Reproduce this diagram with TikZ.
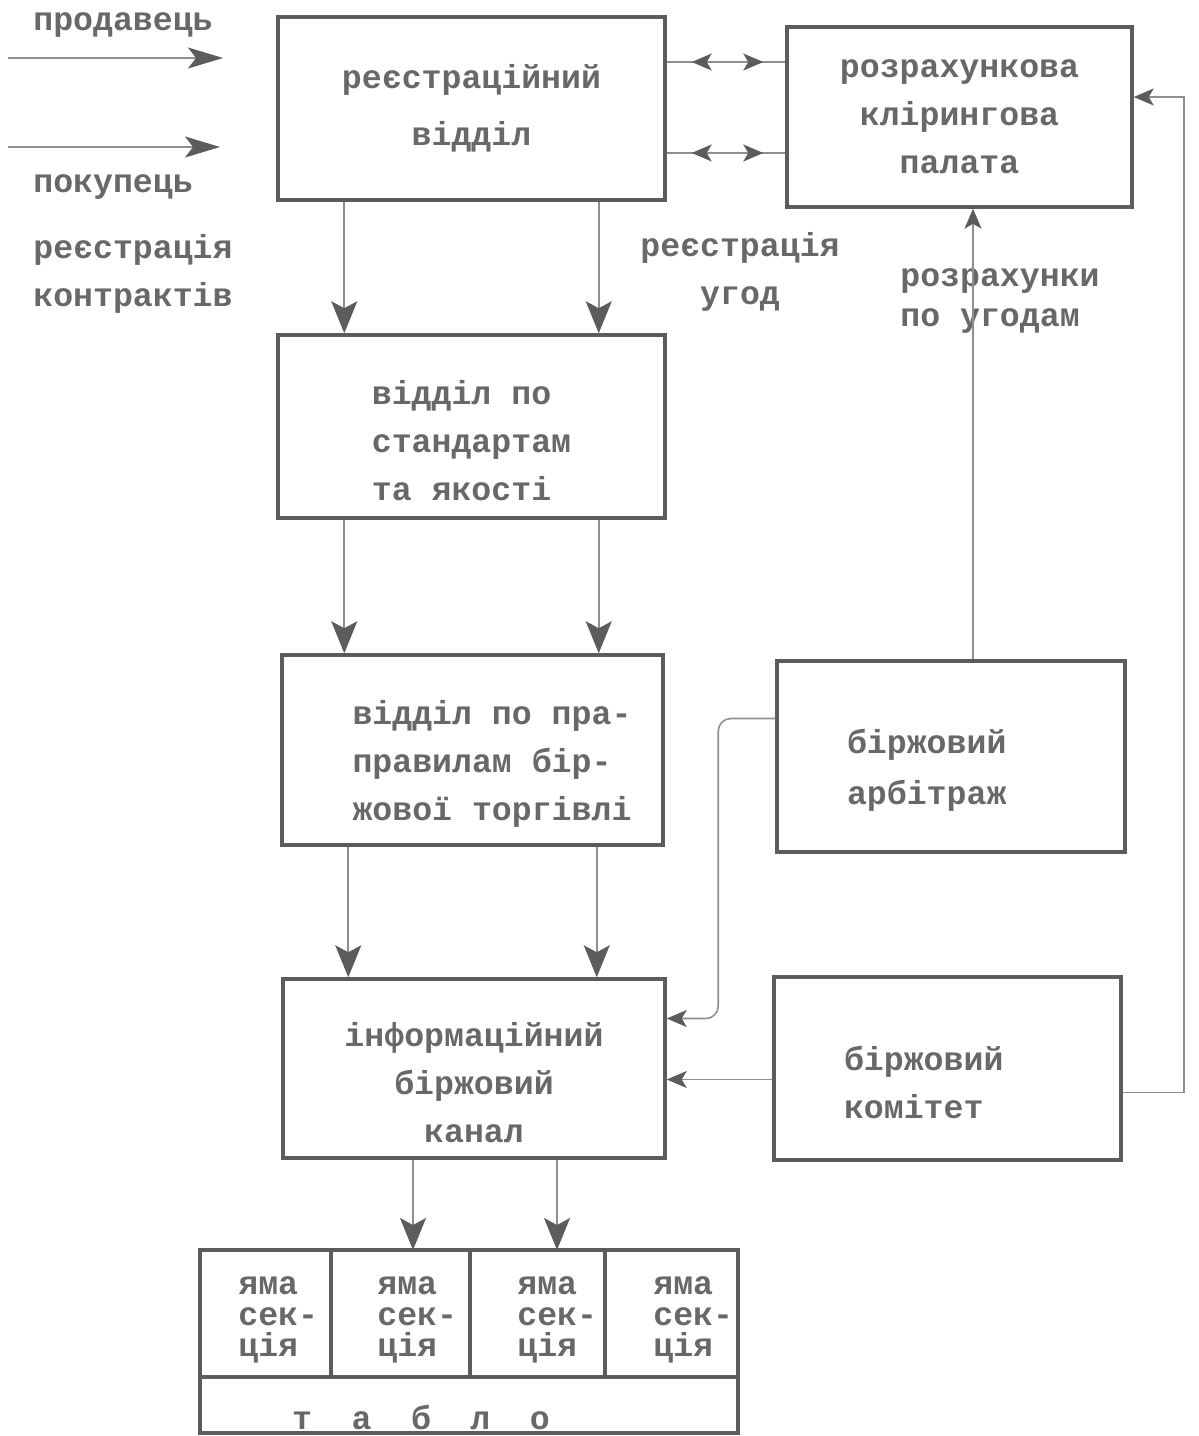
\documentclass[tikz,border=0pt]{standalone}
\usepackage{fontspec}
\setmainfont{Liberation Mono}
\usetikzlibrary{arrows.meta}
\usepackage{xcolor}
\definecolor{pencil}{HTML}{8E8E8E}
\definecolor{ink}{HTML}{5C5C5C}
\definecolor{typed}{HTML}{686868}
\newcommand{\typefont}{\fontsize{18.9}{27.2}\selectfont\bfseries}
\newcommand{\pitfont}{\fontsize{18.9}{17.6}\selectfont\bfseries}
\newcommand{\lettergap}{\hspace{0.79cm}}
\newcommand{\indentline}{\hspace*{0.78cm}}
\newcommand{\sink}{\rule{0pt}{1.04cm}}

\tikzset{
  bighead/.tip={Stealth[length=0.64cm, width=0.52cm, inset=0.14cm, color=ink]},
  smallhead/.tip={Stealth[length=0.4cm, width=0.34cm, inset=0.1cm, color=ink]},
  unit/.style={draw=ink, line width=2pt, text=typed, font=\typefont, align=center},
  lbl/.style={text=typed, font=\typefont, inner sep=0pt},
  link/.style={draw=pencil, line width=0.9pt},
  arr/.style={link, -bighead},
  arrs/.style={link, -smallhead},
  grid/.style={draw=ink, line width=2pt},
}

\begin{document}
\begin{tikzpicture}[x=0.02cm, y=-0.02cm]
  \useasboundingbox (0,0) rectangle (1198,1436);

  % Main column of departments
  \node[unit, minimum width=7.74cm, minimum height=3.66cm] (reg) at (471.5,108.5)
        {реєстраційний\\[5pt]відділ};
  \node[unit, minimum width=7.74cm, minimum height=3.66cm, align=left] (std) at (471.5,426.5)
        {\sink відділ по\\стандартам\\та якості};
  \node[unit, minimum width=7.62cm, minimum height=3.8cm, align=left] (rules) at (472.5,750)
        {\sink\indentline відділ по пра-\\\indentline правилам бір-\\\indentline жової торгівлі};
  \node[unit, minimum width=7.64cm, minimum height=3.58cm] (info) at (474,1068.5)
        {\sink інформаційний\\біржовий\\канал};

  % Right column
  \node[unit, minimum width=6.9cm, minimum height=3.6cm] (clear) at (959.5,117)
        {розрахункова\\клірингова\\палата};
  \node[unit, minimum height=3.82cm, text width=4.16cm, inner xsep=1.4cm,
        align=left] (arb) at (951,756.5) {\sink біржовий\\[2pt]арбітраж};
  \node[unit, minimum height=3.66cm, text width=4.14cm, inner xsep=1.4cm,
        align=left] (com) at (947.5,1068.5) {\sink біржовий\\комітет};

  % Left-side inputs
  \node[lbl, anchor=west] (seller) at (33,25) {продавець};
  \node[lbl, anchor=west] (buyer) at (33,187) {покупець};
  \node[lbl, anchor=west, align=left] (regc) at (33,274) {реєстрація\\контрактів};
  \coordinate (sellA) at (8,58);
  \coordinate (sellB) at (223,58);
  \coordinate (buyA) at (8,147);
  \coordinate (buyB) at (220,147);
  \draw[link, -{Stealth[length=0.7cm, width=0.42cm, inset=0.16cm, color=ink]}] (sellA) -- (sellB);
  \draw[link, -{Stealth[length=0.7cm, width=0.42cm, inset=0.16cm, color=ink]}] (buyA) -- (buyB);

  % Other captions
  \node[lbl, align=center] (regd) at (740,272) {реєстрація\\угод};
  \node[lbl, anchor=west, align=left] (calc) at (900,301) {розрахунки\\[-4pt]по угодам};

  % Down the main column
  \foreach \a/\b in {reg/std, std/rules, rules/info} {
    \draw[arr] ([xshift=1.36cm]\a.south west) coordinate (p) -- (p |- \b.north);
    \draw[arr] ([xshift=-1.36cm]\a.south east) coordinate (p) -- (p |- \b.north);
  }

  % Registration <-> clearing house
  \draw[link] ([yshift=0.93cm]reg.east) coordinate (q1) -- (q1 -| clear.west);
  \draw[link, smallhead-smallhead, shorten <=0.5cm, shorten >=0.44cm] (q1) -- (q1 -| clear.west);
  \draw[link] ([yshift=-0.89cm]reg.east) coordinate (q2) -- (q2 -| clear.west);
  \draw[link, smallhead-smallhead, shorten <=0.5cm, shorten >=0.44cm] (q2) -- (q2 -| clear.west);

  % Feedback lines
  \draw[arrs] ([xshift=0.44cm]arb.north) coordinate (u) -- (u |- clear.south);
  \draw[arrs] ([yshift=-0.48cm]com.east) -- ++(61,0) |- ([yshift=0.4cm]clear.east);
  \draw[arrs, rounded corners=0.25cm] ([yshift=0.76cm]arb.west) -- ++(-57,0) |- ([yshift=1.0cm]info.east);
  \draw[arrs] ([yshift=-0.22cm]com.west) coordinate (v) -- (v -| info.east);

  % Pits and board
  \draw[grid] (200,1250) rectangle (738,1433);
  \draw[grid] (200,1377) -- (738,1377);
  \foreach \x in {331,470,605}
    \draw[grid] (\x,1250) -- (\x,1377);
  \node[lbl, font=\pitfont, anchor=west, align=left] (pit1) at (238,1320) {яма\\сек-\\ція};
  \node[lbl, font=\pitfont, anchor=west, align=left] (pit2) at (377,1320) {яма\\сек-\\ція};
  \node[lbl, font=\pitfont, anchor=west, align=left] (pit3) at (517,1320) {яма\\сек-\\ція};
  \node[lbl, font=\pitfont, anchor=west, align=left] (pit4) at (653,1320) {яма\\сек-\\ція};
  \node[lbl] (board) at (421,1417) {т\lettergap а\lettergap б\lettergap л\lettergap о};
  \coordinate (t1) at (413,1250);
  \coordinate (t2) at (557,1250);
  \draw[arr] (info.south -| t1) -- (t1);
  \draw[arr] (info.south -| t2) -- (t2);
\end{tikzpicture}
\end{document}
